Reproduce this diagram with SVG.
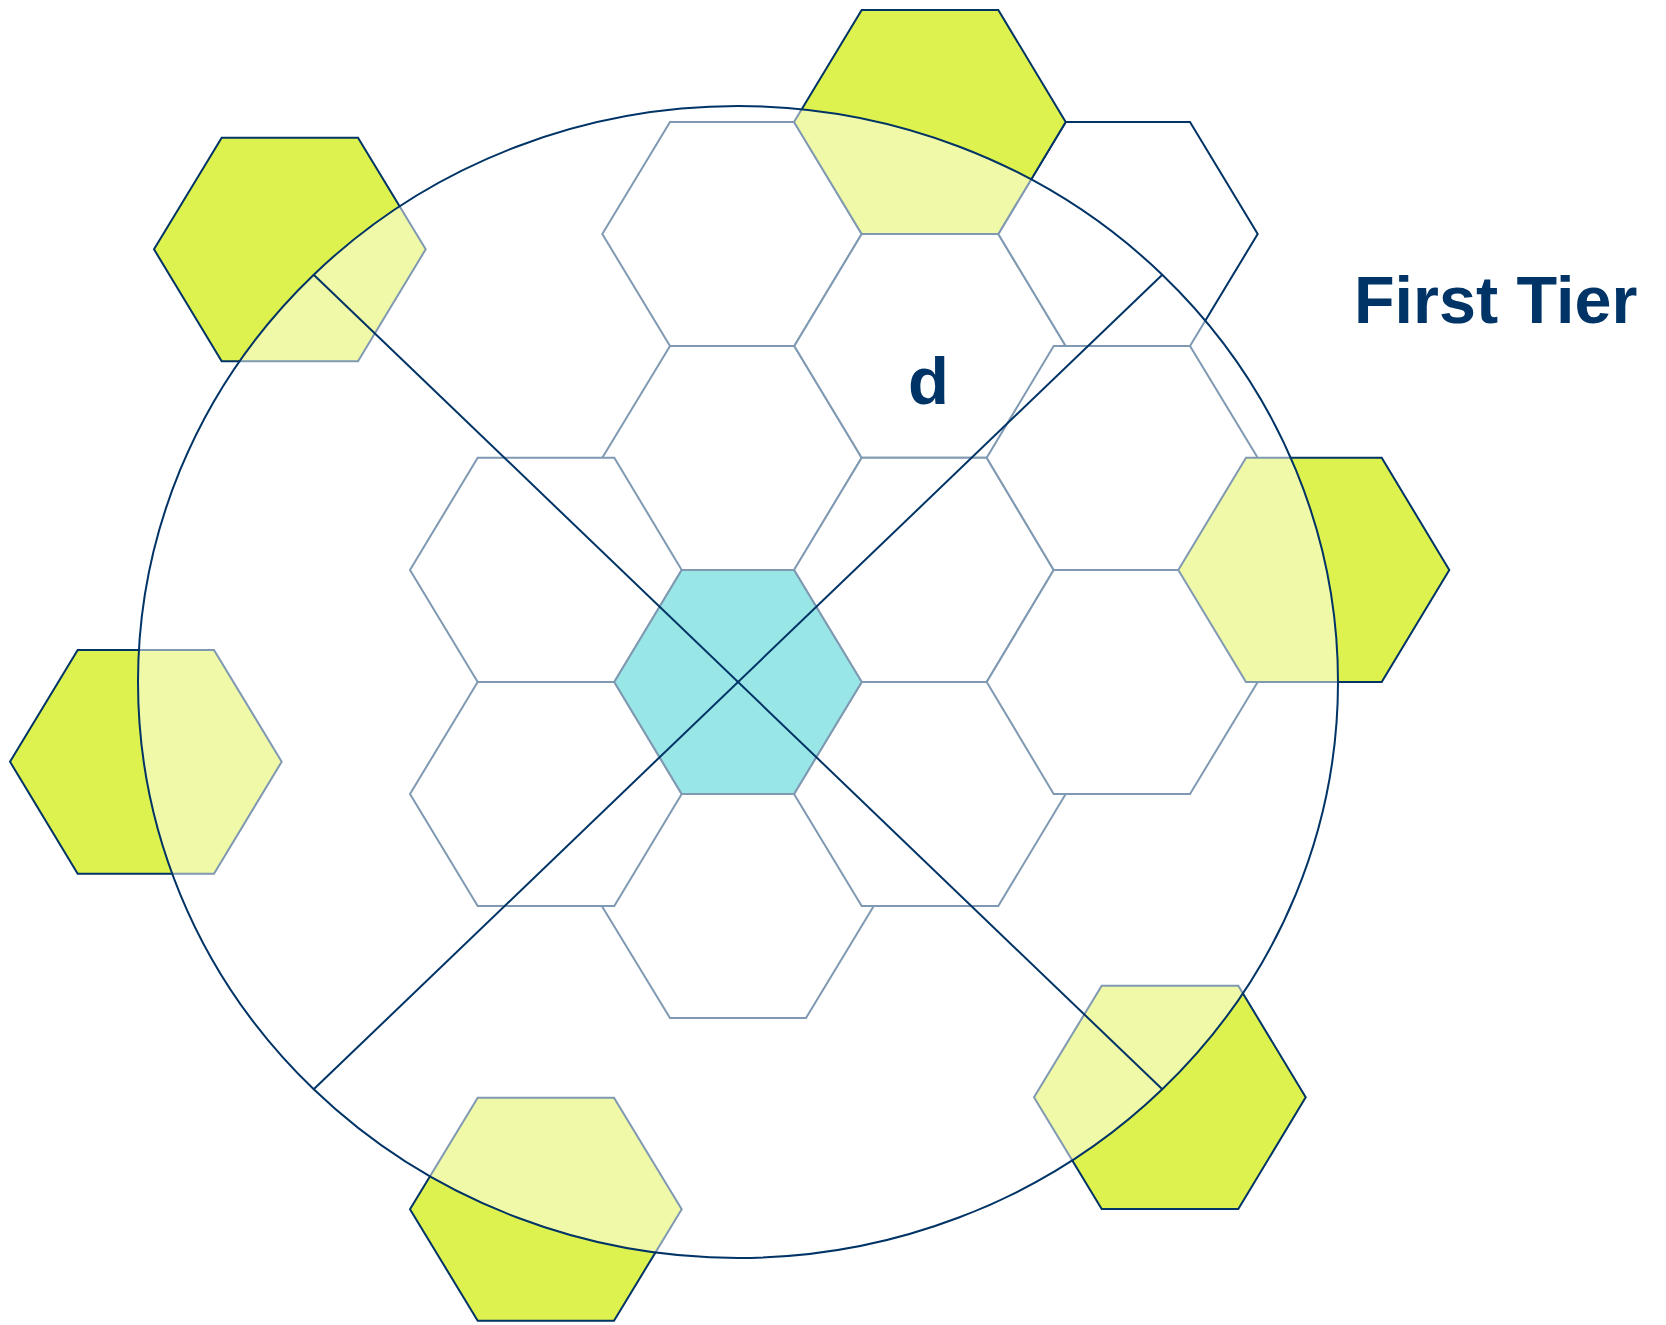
<svg xmlns="http://www.w3.org/2000/svg" width="1666" height="1325" viewBox="0 0 1666 1325">
<style>
.grid{fill:#ffffff;stroke:#003366;stroke-width:2}
.core{fill:#33cccc;stroke:#003366;stroke-width:2}
.tier{fill:#def24f;stroke:#003366;stroke-width:2}
.veil{fill:#ffffff;fill-opacity:0.5;stroke:#003366;stroke-width:2}
.axis{stroke:#003366;stroke-width:2;fill:none}
.lbl{font-family:"Liberation Sans",Arial,sans-serif;font-weight:bold;fill:#003366}
</style>
<rect width="1666" height="1325" fill="#ffffff"/>
<g id="cells">
<g id="cell-a"><polygon class="grid" points="602.3,234 670,122 794.3,122 861.7,234 794.3,346 670,346"/></g>
<g id="cell-a2"><polygon class="grid" points="602.3,457.7 670,346 794.3,346 861.7,457.7 794.3,570 670,570"/></g>
<g id="cell-c"><polygon class="grid" points="794.3,346 861.7,234 998.3,234 1065.7,346 998.3,457.7 861.7,457.7"/></g>
<g id="cell-d"><polygon class="grid" points="998.3,234 1065.7,122 1190,122 1257.7,234 1190,346 1065.7,346"/></g>
<g id="cell-b1"><polygon class="grid" points="602.3,906.7 670,794 806,794 873.3,906.7 806,1018 670,1018"/></g>
<g id="cell-h"><polygon class="grid" points="794,794 861.7,682 998.3,682 1065.7,794 998.3,906 861.7,906"/></g>
<g id="cell-l1"><polygon class="grid" points="410,570 477.7,457.7 614.3,457.7 681.7,570 614.3,682 477.7,682"/></g>
<g id="cell-l2"><polygon class="grid" points="410,794 477.7,682 614.3,682 681.7,794 614.3,906 477.7,906"/></g>
<g id="cell-i"><polygon class="grid" points="794,570 861.7,457.7 986.7,457.7 1053.7,570 986.7,682 861.7,682"/></g>
<g id="cell-e"><polygon class="grid" points="986.7,457.7 1053.7,346 1190,346 1257.7,457.7 1190,570 1053.7,570"/></g>
<g id="cell-g"><polygon class="grid" points="986.7,682 1053.7,570 1190,570 1257.7,682 1190,794 1053.7,794"/></g>
<g id="cell-center"><polygon class="core" points="614.3,682 681.7,570 794,570 861.7,682 794,794 681.7,794"/></g>
</g>
<g id="first-tier">
<g id="tier-top"><polygon class="tier" points="794,122 861.7,10 998.3,10 1065.7,122 998.3,234 861.7,234"/></g>
<g id="tier-top-left"><polygon class="tier" points="154,249.3 221.7,137.7 358,137.7 425.7,249.3 358,361.3 221.7,361.3"/></g>
<g id="tier-left"><polygon class="tier" points="10,761.7 77.7,650 214,650 281.7,761.7 214,873.7 77.7,873.7"/></g>
<g id="tier-bottom"><polygon class="tier" points="410,1209.3 477.7,1097.7 614,1097.7 681.7,1209.3 614,1320.7 477.7,1320.7"/></g>
<g id="tier-bottom-right"><polygon class="tier" points="1034,1097.3 1101.7,985.7 1238.3,985.7 1305.7,1097.3 1238.3,1209 1101.7,1209"/></g>
<g id="tier-right"><polygon class="tier" points="1178.3,570 1246,457.7 1381.7,457.7 1449.3,570 1381.7,682 1246,682"/></g>
</g>
<g id="reuse-circle"><ellipse class="veil" cx="738" cy="682" rx="600" ry="576"/></g>
<g id="connectors">
<line class="axis" x1="313.7" y1="274.7" x2="1162.3" y2="1089.3"/>
<line class="axis" x1="1162.3" y1="274.7" x2="313.7" y2="1089.3"/>
</g>
<g id="labels">
<text class="lbl" x="908" y="404" font-size="67">d</text>
<text class="lbl" x="1354" y="323" font-size="66.5">First Tier</text>
</g>
</svg>
